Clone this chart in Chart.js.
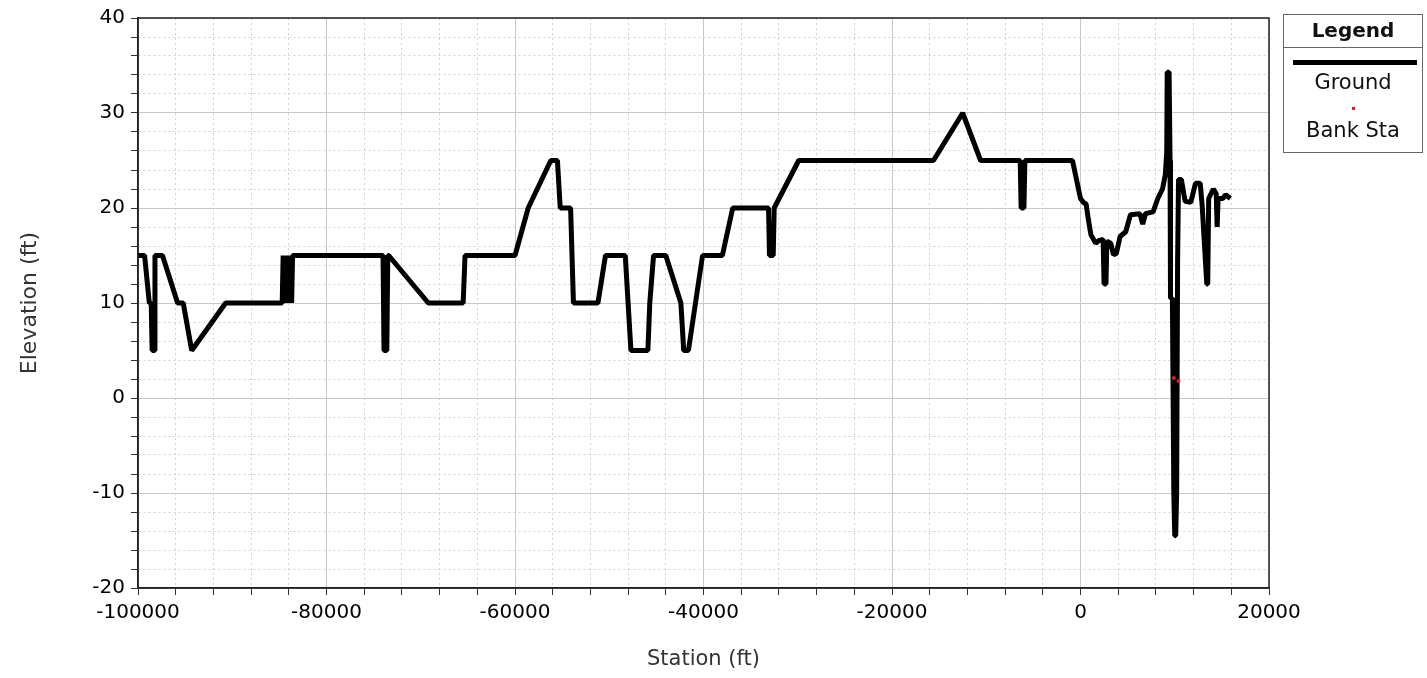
<!DOCTYPE html>
<html>
<head>
<meta charset="utf-8">
<script src="https://cdn.jsdelivr.net/npm/chart.js@4"></script>
<style>
  body { margin: 0; background: #fff; }
  #wrap { position: relative; width: 1427px; height: 678px; }
  #legend {
    position: absolute; left: 1283px; top: 14px; width: 138px; height: 137px;
    border: 1px solid #666; font-family: "DejaVu Sans", sans-serif; color: #111; text-align: center;
  }
  #legend .title { font-weight: bold; font-size: 20px; height: 32px; line-height: 30px; border-bottom: 1px solid #666; }
  #legend .line { margin: 12px 5px 0 9px; height: 5px; background: #000; }
  #legend .lbl { font-size: 21px; line-height: 24px; }
  #legend .dot { width: 3px; height: 3px; background: #e0202a; margin: 13px auto 8px; }
</style>
</head>
<body>
<div id="wrap">
  <canvas id="xs"></canvas>
  <div id="legend">
    <div class="title">Legend</div>
    <div class="line"></div>
    <div class="lbl" style="margin-top:5px">Ground</div>
    <div class="dot"></div>
    <div class="lbl">Bank Sta</div>
  </div>
</div>
<script>
// ground profile, station (ft) / elevation (ft)
var stations = [
  -100000, -99300, -98800, -98600, -98500, -98300, -98200, -97400, -95800, -95200,
  -94300, -90700, -84700, -84600, -84400, -84200, -84000, -83800, -83700, -83600,
  -74000, -73900, -73600, -73500, -73400, -69200, -65500, -65300, -60000, -58600,
  -56200, -55500, -55200, -54100, -53800, -51200, -50400, -48300, -47700, -45900,
  -45700, -45300, -44000, -42400, -42100, -41600, -40100, -38000, -36900, -33100,
  -33000, -32600, -32500, -29900, -15600, -12500, -10600, -6400, -6300, -6000,
  -5900, -850, 0, 300, 600, 800, 1100, 1600, 2000, 2400,
  2500, 2700, 2800, 3200, 3500, 3800, 4200, 4800, 5300, 6300,
  6600, 6900, 7700, 8200, 8700, 9000, 9150, 9200, 9400, 9500,
  9550, 9750, 9900, 10000, 10100, 10200, 10300, 10400, 10700, 11100,
  11700, 12200, 12700, 12900, 13400, 13500, 13600, 14100, 14400, 14500,
  14600, 15100, 15400, 15900
];
var elevations = [
  15, 15, 10, 10, 5, 5, 15, 15, 10, 10,
  5, 10, 10, 15, 10, 15, 10, 15, 10, 15,
  15, 5, 5, 15, 15, 10, 10, 15, 15, 20,
  25, 25, 20, 20, 10, 10, 15, 15, 5, 5,
  10, 15, 15, 10, 5, 5, 15, 15, 20, 20,
  15, 15, 20, 25, 25, 30, 25, 25, 20, 20,
  25, 25, 21, 20.6, 20.4, 19, 17.2, 16.3, 16.6, 16.7,
  12, 12, 16.5, 16.3, 15.1, 15.2, 17, 17.5, 19.3, 19.4,
  18.3, 19.4, 19.6, 21, 22, 23.5, 25.9, 34.3, 34.3, 25,
  10.5, 10.5, -10, -14.5, -14.5, -10, 14, 23, 23, 20.7,
  20.6, 22.6, 22.6, 20.4, 12, 12, 21, 22, 21.5, 18,
  21, 21, 21.4, 21
];
var bankStations = [9900, 10400];
var bankElevations = [2.1, 1.8];

var xMin = -100000, xMax = 20000, xStep = 4000, xLabelEvery = 20000;
var yMin = -20, yMax = 40, yStep = 2, yLabelEvery = 10;

var groundPts = stations.map(function (s, i) { return { x: s, y: elevations[i] }; });
var bankPts = bankStations.map(function (s, i) { return { x: s, y: bankElevations[i] }; });

var tickFont = { family: "DejaVu Sans", size: 20 };

function gridColor(every) {
  return function (ctx) {
    if (!ctx.tick) return '#ccc';
    return ctx.tick.value % every === 0 ? '#c8c8c8' : '#d2d2d2';
  };
}
function gridDash(every) {
  return function (ctx) {
    if (!ctx.tick) return [];
    return ctx.tick.value % every === 0 ? [] : [2, 3];
  };
}

var frame = {
  id: 'frame',
  afterDraw: function (chart) {
    var a = chart.chartArea, c = chart.ctx;
    c.save();
    c.strokeStyle = '#222';
    c.lineWidth = 1.5;
    c.strokeRect(a.left, a.top, a.right - a.left, a.bottom - a.top);
    c.restore();
  }
};

new Chart(document.getElementById('xs'), {
  type: 'line',
  data: {
    datasets: [
      {
        label: 'Ground',
        data: groundPts,
        borderColor: '#000',
        borderWidth: 5,
        borderJoinStyle: 'bevel',
        pointRadius: 0,
        tension: 0,
        fill: false,
        order: 2
      },
      {
        label: 'Bank Sta',
        data: bankPts,
        showLine: false,
        pointRadius: 2,
        pointBorderWidth: 0,
        pointBackgroundColor: '#e0202a',
        order: 1
      }
    ]
  },
  options: {
    responsive: true,
    maintainAspectRatio: false,
    animation: false,
    layout: { padding: { left: 0, top: 15, right: 158, bottom: 0 } },
    plugins: { legend: { display: false }, tooltip: { enabled: false } },
    scales: {
      x: {
        type: 'linear',
        min: xMin,
        max: xMax,
        afterFit: function (s) { s.height = 90; },
        ticks: {
          stepSize: xStep,
          autoSkip: false,
          maxRotation: 0,
          padding: 6,
          color: '#000',
          font: tickFont,
          callback: function (v) { return v % xLabelEvery === 0 ? String(v) : ''; }
        },
        grid: { color: gridColor(xLabelEvery), lineWidth: 1, tickLength: 7, tickColor: '#333', tickWidth: 1 },
        border: { color: '#222', width: 1.5, dash: gridDash(xLabelEvery) },
        title: { display: true, text: 'Station (ft)', color: '#333', font: { family: "DejaVu Sans", size: 21 }, padding: { top: 4, bottom: 6 } }
      },
      y: {
        min: yMin,
        max: yMax,
        afterFit: function (s) { s.width = 138; },
        ticks: {
          stepSize: yStep,
          autoSkip: false,
          padding: 6,
          color: '#000',
          font: tickFont,
          callback: function (v) { return v % yLabelEvery === 0 ? String(v) : ''; }
        },
        grid: { color: gridColor(yLabelEvery), lineWidth: 1, tickLength: 7, tickColor: '#333', tickWidth: 1 },
        border: { color: '#222', width: 1.5, dash: gridDash(yLabelEvery) },
        title: { display: true, text: 'Elevation (ft)', color: '#333', font: { family: "DejaVu Sans", size: 22 }, padding: { top: 17, bottom: 4 } }
      }
    }
  },
  plugins: [frame]
});
</script>
</body>
</html>
